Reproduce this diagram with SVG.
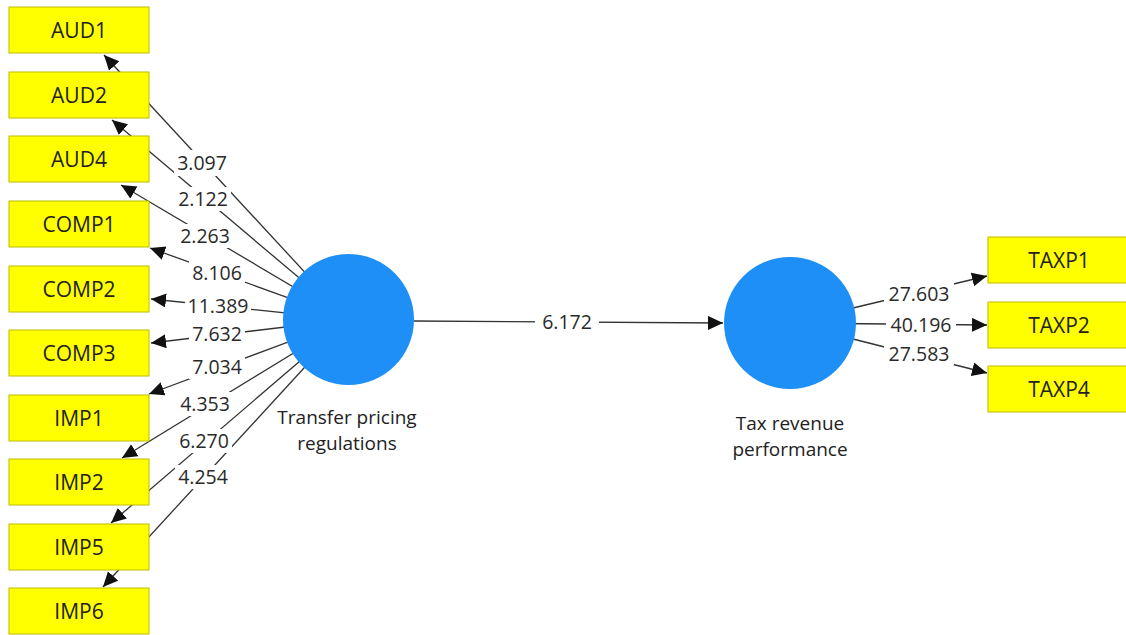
<svg xmlns="http://www.w3.org/2000/svg" width="1126" height="635" viewBox="0 0 1126 635">
<defs>
<marker id="arr" markerUnits="userSpaceOnUse" markerWidth="17" markerHeight="15" refX="15" refY="7" orient="auto"><path d="M0,0 L15,7 L0,14 z" fill="#111"/></marker>
<style>
.ln{stroke:#333;stroke-width:1.3;fill:none;marker-end:url(#arr)}
.lb{fill:#fff}
.t{font-family:"Open Sans","Noto Sans",sans-serif;font-size:21px;fill:#222;text-anchor:middle}
.c{font-family:"Open Sans","Noto Sans",sans-serif;font-size:19px;fill:#222;text-anchor:middle}
.n{font-family:"Open Sans","Noto Sans",sans-serif;font-size:19.5px;fill:#2a2a2a;text-anchor:middle}
.box{fill:#ffff00;stroke:#bcbc00;stroke-width:1}
.lv{fill:#1e8ff7}
</style>
</defs>
<rect width="1126" height="635" fill="#fff"/>
<g id="connectors">
<line class="ln" x1="348.5" y1="319.5" x2="104" y2="55"/>
<line class="ln" x1="348.5" y1="319.5" x2="112" y2="120"/>
<line class="ln" x1="348.5" y1="319.5" x2="121" y2="185"/>
<line class="ln" x1="348.5" y1="319.5" x2="150" y2="248"/>
<line class="ln" x1="348.5" y1="319.5" x2="151" y2="299"/>
<line class="ln" x1="348.5" y1="319.5" x2="151" y2="343"/>
<line class="ln" x1="348.5" y1="319.5" x2="149" y2="394"/>
<line class="ln" x1="348.5" y1="319.5" x2="122" y2="458"/>
<line class="ln" x1="348.5" y1="319.5" x2="111" y2="523"/>
<line class="ln" x1="348.5" y1="319.5" x2="103" y2="587"/>
<line class="ln" x1="414" y1="321" x2="723" y2="323"/>
<line class="ln" x1="790" y1="323" x2="987" y2="276"/>
<line class="ln" x1="790" y1="323" x2="987" y2="325"/>
<line class="ln" x1="790" y1="323" x2="987" y2="373"/>
<g>
<rect class="lb" x="174" y="150" width="56" height="26"/><text class="n" x="202" y="170">3.097</text>
<rect class="lb" x="175" y="187" width="56" height="24"/><text class="n" x="203" y="206">2.122</text>
<rect class="lb" x="177" y="224" width="56" height="24"/><text class="n" x="205" y="243">2.263</text>
<rect class="lb" x="189" y="261" width="56" height="24"/><text class="n" x="217" y="280">8.106</text>
<rect class="lb" x="185" y="295" width="66" height="22"/><text class="n" x="218" y="313">11.389</text>
<rect class="lb" x="189" y="323" width="56" height="22"/><text class="n" x="217" y="341">7.632</text>
<rect class="lb" x="189" y="355" width="56" height="24"/><text class="n" x="217" y="374">7.034</text>
<rect class="lb" x="177" y="392" width="56" height="24"/><text class="n" x="205" y="411">4.353</text>
<rect class="lb" x="176" y="429" width="56" height="24"/><text class="n" x="204" y="448">6.270</text>
<rect class="lb" x="175" y="465" width="56" height="24"/><text class="n" x="203" y="484">4.254</text>
<rect class="lb" x="535" y="311" width="64" height="22"/><text class="n" x="567" y="329">6.172</text>
<rect class="lb" x="884" y="283" width="70" height="22"/><text class="n" x="919" y="301">27.603</text>
<rect class="lb" x="886" y="314" width="70" height="22"/><text class="n" x="921" y="332">40.196</text>
<rect class="lb" x="884" y="343" width="70" height="22"/><text class="n" x="919" y="361">27.583</text>
</g>
</g>
<g id="AUD1"><rect class="box" x="9" y="7" width="140" height="46"/><text class="t" x="79" y="38">AUD1</text></g>
<g id="AUD2"><rect class="box" x="9" y="72" width="140" height="46"/><text class="t" x="79" y="103">AUD2</text></g>
<g id="AUD4"><rect class="box" x="9" y="136" width="140" height="46"/><text class="t" x="79" y="167">AUD4</text></g>
<g id="COMP1"><rect class="box" x="9" y="201" width="140" height="46"/><text class="t" x="79" y="232">COMP1</text></g>
<g id="COMP2"><rect class="box" x="9" y="266" width="140" height="46"/><text class="t" x="79" y="297">COMP2</text></g>
<g id="COMP3"><rect class="box" x="9" y="330" width="140" height="46"/><text class="t" x="79" y="361">COMP3</text></g>
<g id="IMP1"><rect class="box" x="9" y="395" width="140" height="46"/><text class="t" x="79" y="426">IMP1</text></g>
<g id="IMP2"><rect class="box" x="9" y="459" width="140" height="46"/><text class="t" x="79" y="490">IMP2</text></g>
<g id="IMP5"><rect class="box" x="9" y="524" width="140" height="46"/><text class="t" x="79" y="555">IMP5</text></g>
<g id="IMP6"><rect class="box" x="9" y="588" width="140" height="46"/><text class="t" x="79" y="619">IMP6</text></g>
<g id="TAXP1"><rect class="box" x="988" y="237" width="141" height="46"/><text class="t" x="1059" y="268">TAXP1</text></g>
<g id="TAXP2"><rect class="box" x="988" y="302" width="141" height="46"/><text class="t" x="1059" y="333">TAXP2</text></g>
<g id="TAXP4"><rect class="box" x="988" y="366" width="141" height="46"/><text class="t" x="1059" y="397">TAXP4</text></g>
<g id="TransferPricing"><circle class="lv" cx="348.5" cy="319.5" r="65.5"/><text class="c" x="347" y="424">Transfer pricing</text><text class="c" x="347" y="450">regulations</text></g>
<g id="TaxRevenue"><circle class="lv" cx="790" cy="323" r="66"/><text class="c" x="790" y="430">Tax revenue</text><text class="c" x="790" y="456">performance</text></g>
</svg>
